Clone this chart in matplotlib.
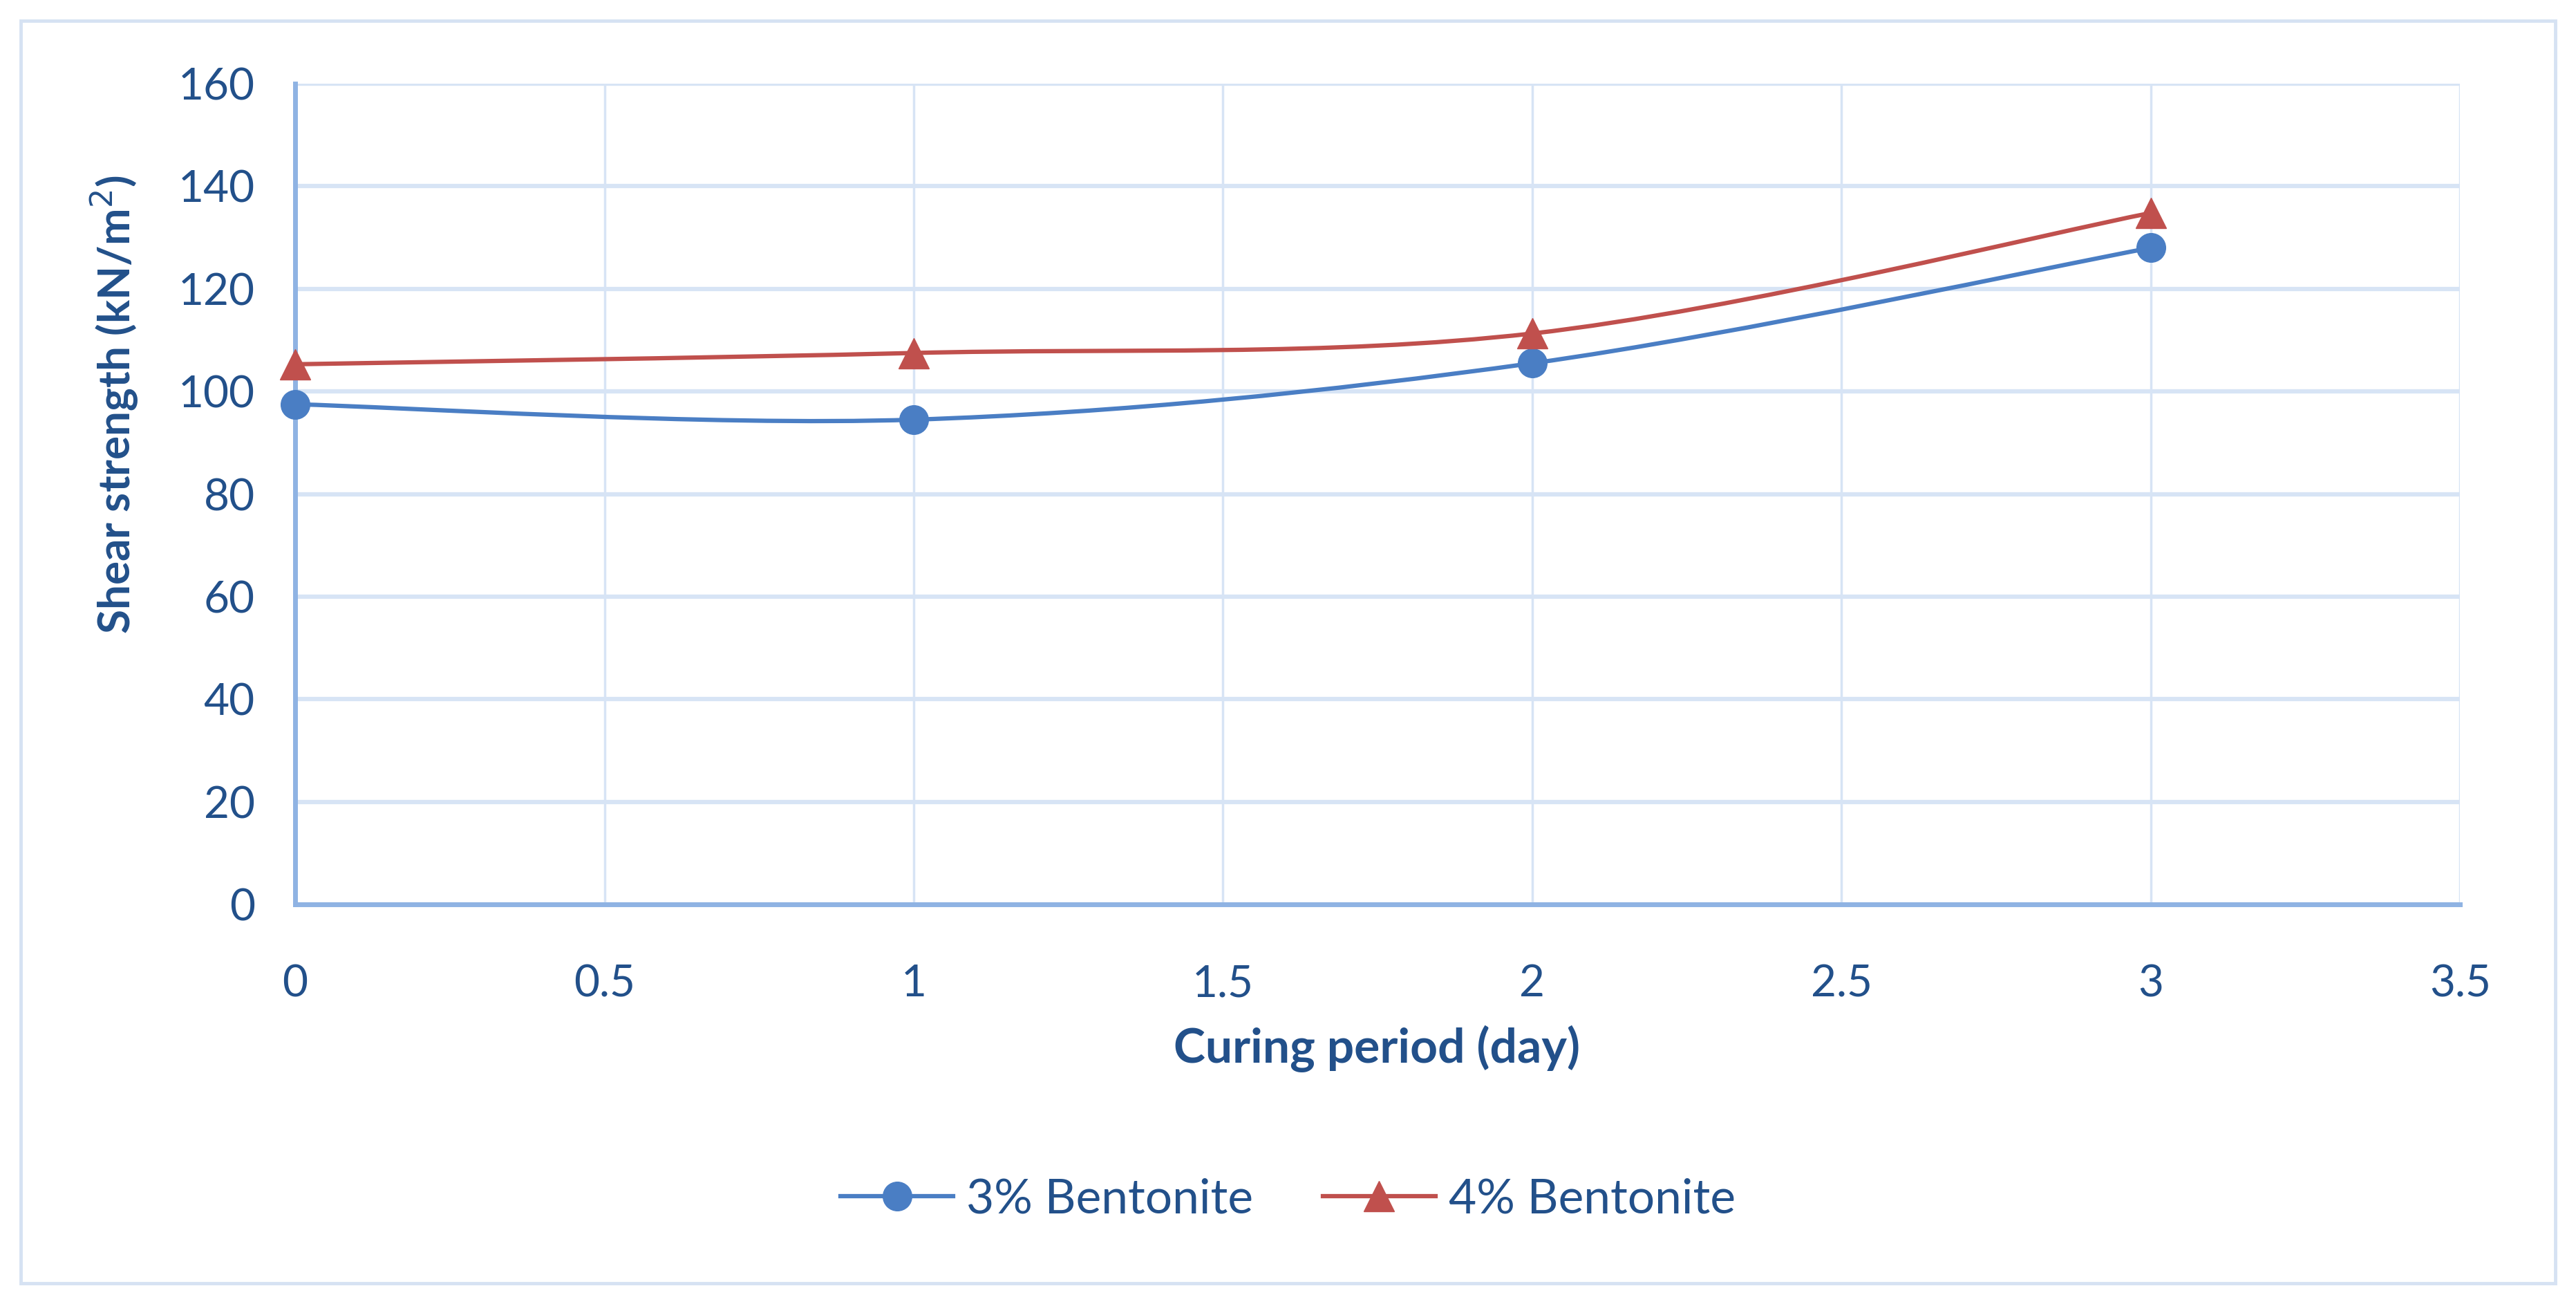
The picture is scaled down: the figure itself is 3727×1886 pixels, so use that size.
import matplotlib
matplotlib.use("Agg")
import matplotlib.pyplot as plt
from matplotlib.path import Path
from matplotlib.patches import PathPatch, Rectangle
from matplotlib.lines import Line2D

# data
days = [0, 1, 2, 3]
bent3 = [97.5, 94.5, 105.5, 128.0]
bent4 = [105.3, 107.5, 111.3, 134.8]
series_names = ["3% Bentonite", "4% Bentonite"]

TEXT = "#22508A"
BLUE = "#4A7EC4"
RED = "#C0504D"
GRID = "#D7E4F5"
AXIS = "#8FB3E3"

plt.rcParams['font.family'] = ['Lato', 'DejaVu Sans']


def smooth_path(xs, ys):
    # Excel-style smoothed line: cubic Bezier segments through each point
    px = [xs[0]] + list(xs) + [xs[-1]]
    py = [ys[0]] + list(ys) + [ys[-1]]
    verts = [(xs[0], ys[0])]
    codes = [Path.MOVETO]
    for i in range(1, len(xs)):
        c1 = (px[i] + (px[i + 1] - px[i - 1]) / 6, py[i] + (py[i + 1] - py[i - 1]) / 6)
        c2 = (px[i + 1] - (px[i + 2] - px[i]) / 6, py[i + 1] - (py[i + 2] - py[i]) / 6)
        verts += [c1, c2, (px[i + 1], py[i + 1])]
        codes += [Path.CURVE4] * 3
    return Path(verts, codes)


fig = plt.figure(figsize=(37.27, 18.86), dpi=100)
ax = fig.add_axes([0.1146, 0.3065, 0.8404, 0.6293])

# outer chart frame
fig.patches.append(Rectangle((30 / 3727, 30 / 1886), 1 - 60 / 3727, 1 - 60 / 1886,
                             transform=fig.transFigure, fill=False,
                             edgecolor="#D6E2F3", linewidth=3.5))

for ys, col, mk, ms in [(bent3, BLUE, 'o', 30), (bent4, RED, '^', 32)]:
    ax.add_patch(PathPatch(smooth_path(days, ys), fill=False, edgecolor=col,
                           linewidth=4.5, zorder=3, capstyle='round'))
    ax.plot(days, ys, linestyle='none', marker=mk, markersize=ms, color=col,
            markeredgecolor=col, zorder=4, clip_on=False)

ax.set_xlim(0, 3.5)
ax.set_ylim(0, 160)
ax.set_xticks([0, 0.5, 1, 1.5, 2, 2.5, 3, 3.5])
ax.set_xticklabels(["0", "0.5", "1", "1.5", "2", "2.5", "3", "3.5"])
ax.set_yticks(range(0, 161, 20))

ax.grid(True, axis='y', color=GRID, linewidth=4.5, zorder=0)
ax.grid(True, axis='x', color=GRID, linewidth=2.5, zorder=0)
ax.set_axisbelow(True)

for s in ['top', 'right']:
    ax.spines[s].set_visible(False)
for s in ['left', 'bottom']:
    ax.spines[s].set_color(AXIS)
    ax.spines[s].set_linewidth(5)

ax.tick_params(axis='both', length=0, labelsize=46, labelcolor=TEXT)
ax.tick_params(axis='y', pad=42)
ax.tick_params(axis='x', pad=62)

fig.text(0.5345, 1 - 1517 / 1886, "Curing period (day)", ha='center', va='center',
         fontsize=50, fontweight='bold', color=TEXT)
fig.text(166 / 3727, 1 - 585 / 1886, "Shear strength (kN/m$^2$)", ha='center',
         va='center', rotation=90, fontsize=46, fontweight='bold', color=TEXT)

handles = [Line2D([], [], color=BLUE, linewidth=4.5, marker='o', markersize=30),
           Line2D([], [], color=RED, linewidth=4.5, marker='^', markersize=32)]
leg = fig.legend(handles, series_names, loc='center', bbox_to_anchor=(0.5, 1 - 1735 / 1886),
                 ncol=2, frameon=False, fontsize=50, handlelength=2.35,
                 handletextpad=0.27, columnspacing=1.45)
for t in leg.get_texts():
    t.set_color(TEXT)

fig.savefig("out.png", dpi=100, facecolor='white')
